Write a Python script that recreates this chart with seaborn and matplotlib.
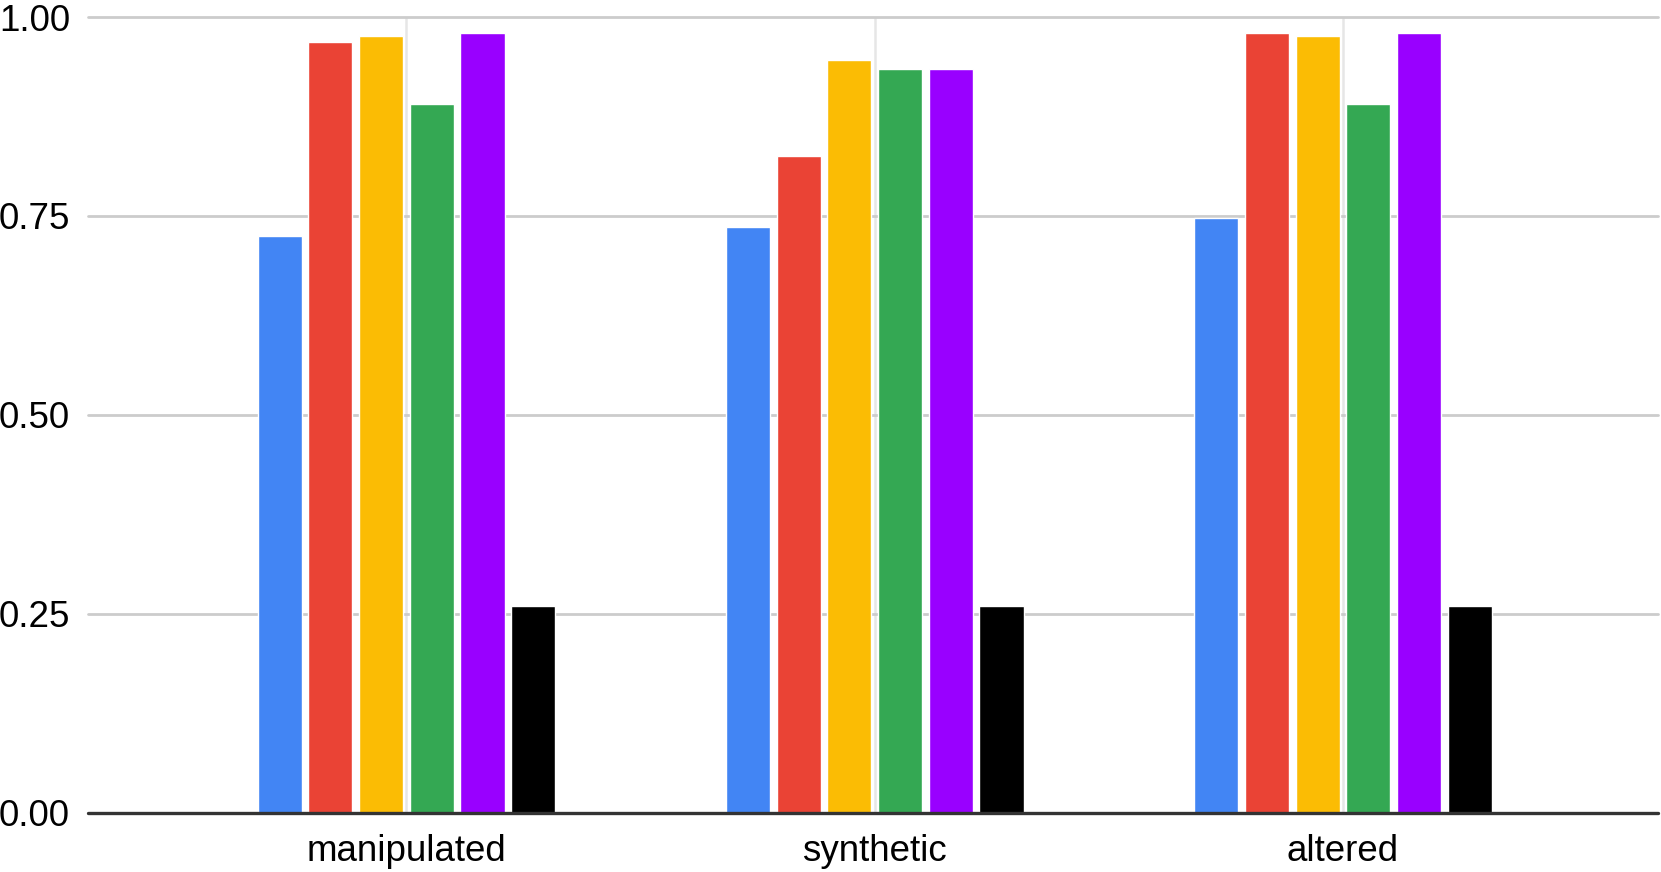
import pandas as pd
import numpy as np
import matplotlib
matplotlib.use("Agg")
import matplotlib.pyplot as plt
import seaborn as sns

# values
categories = ["manipulated", "synthetic", "altered"]
series = ["series 1", "series 2", "series 3", "series 4", "series 5", "series 6"]
s1 = [0.725, 0.736, 0.747]
s2 = [0.969, 0.825, 0.980]
s3 = [0.976, 0.946, 0.976]
s4 = [0.891, 0.935, 0.891]
s5 = [0.980, 0.935, 0.980]
s6 = [0.260, 0.260, 0.260]
colors = ["#4285F4", "#EA4335", "#FBBC04", "#34A853", "#9900FF", "#000000"]

df = pd.DataFrame({"category": categories, "series 1": s1, "series 2": s2,
                   "series 3": s3, "series 4": s4, "series 5": s5, "series 6": s6})
df = df.melt(id_vars="category", var_name="series", value_name="value")

sns.set_style("white")
plt.rcParams["font.family"] = ["Liberation Sans", "DejaVu Sans"]

fig = plt.figure(figsize=(16.61, 8.72), dpi=100)
ax = fig.add_axes([0.053, 0.0677, 0.945, 0.9128])

# light vertical lines at category centres (behind bars)
for i in range(len(categories)):
    ax.axvline(i, color="#e6e6e6", lw=1.8, zorder=0)

sns.barplot(data=df, x="category", y="value", hue="series", hue_order=series,
            order=categories, palette=colors, saturation=1, width=0.65, gap=0.13,
            legend=False, ax=ax, zorder=2)

ax.set_ylim(0, 1)
ax.set_xlim(-0.68, 2.672)
ax.set_yticks([0, 0.25, 0.5, 0.75, 1.0])
ax.set_yticklabels(["0.00", "0.25", "0.50", "0.75", "1.00"])
ax.yaxis.grid(True, color="#cccccc", lw=2)
ax.set_axisbelow(True)
ax.axhline(0, color="#333333", lw=2.4, zorder=3, clip_on=False)
for s in ax.spines.values():
    s.set_visible(False)
ax.tick_params(axis="y", length=0, pad=13, labelsize=26.5, labelcolor="black")
ax.tick_params(axis="x", length=0, pad=15, labelsize=26.5, labelcolor="black")
ax.set_xlabel("")
ax.set_ylabel("")
for gl in ax.get_ygridlines():
    gl.set_clip_on(False)

fig.savefig("out.png", dpi=100)
